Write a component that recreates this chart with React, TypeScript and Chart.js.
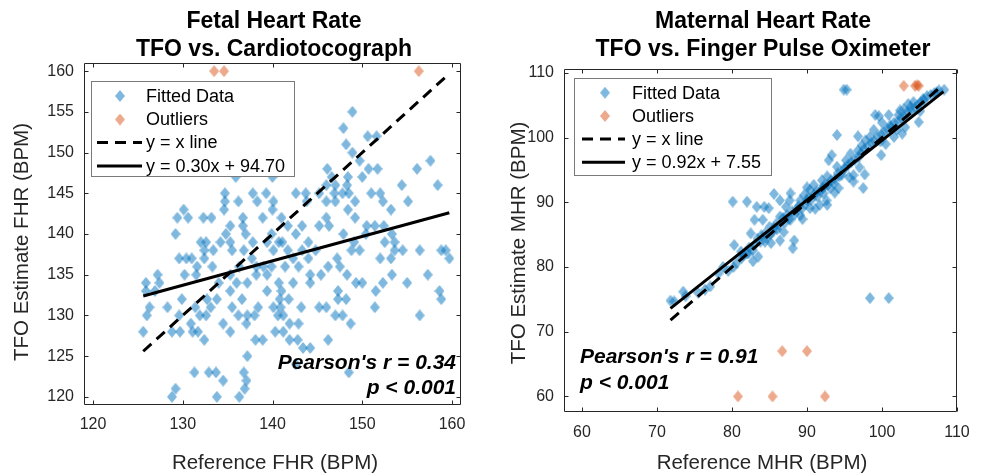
import React, { useEffect, useRef } from 'react';
import { Chart, registerables } from 'chart.js';
Chart.register(...registerables);

const FONT = '"Liberation Sans", Arial, Helvetica, sans-serif';

// ---------------- Fetal heart rate (left) ----------------
const FHR_FIT_X = [132.4,148.9,137.2,136.2,147.9,150.6,151.6,140.4,139.9,148.2,148.9,149.7,135.9,140.0,146.1,146.6,148.4,150.7,151.7,156.1,157.6,154.4,158.4,146.0,147.0,148.3,150.0,134.7,137.8,139.3,142.6,143.7,145.2,146.9,147.8,148.5,151.0,152.0,134.7,136.2,138.3,140.1,143.8,146.0,147.0,149.2,152.3,155.1,130.1,134.6,140.0,148.4,153.2,129.4,130.6,132.3,133.2,136.7,138.9,141.0,146.0,149.2,135.3,136.7,141.7,143.3,145.2,146.3,150.5,151.4,152.4,129.2,134.8,137.0,139.9,142.6,147.9,150.4,153.3,132.0,132.6,134.2,135.3,137.8,139.4,140.7,141.1,144.0,149.1,152.5,153.6,132.4,133.4,135.5,136.8,140.1,141.7,143.3,144.8,148.8,149.7,153.6,154.5,156.4,158.8,159.3,129.6,130.4,131.0,132.4,137.7,142.3,144.0,147.2,152.0,153.2,159.7,131.6,133.3,136.3,138.2,139.0,139.9,141.4,142.9,146.2,147.5,127.2,130.2,131.5,135.3,138.2,139.4,144.2,145.4,148.3,153.3,157.3,125.9,127.4,134.0,136.0,137.2,140.7,142.3,144.2,149.3,150.0,152.3,155.0,125.9,126.9,135.3,139.4,141.0,147.3,151.5,158.6,129.9,133.8,136.6,141.8,140.8,158.8,132.7,147.3,148.2,126.3,128.3,131.4,133.1,135.5,138.4,140.1,140.9,143.2,145.2,146.0,151.4,126.0,129.6,131.9,132.6,136.2,137.2,138.0,140.6,141.2,147.0,147.8,156.4,130.9,134.5,137.1,141.9,142.9,148.7,125.6,128.8,129.7,131.1,131.7,135.3,140.3,141.2,132.4,138.1,138.9,141.9,142.8,146.2,143.4,144.2,137.2,142.6,131.3,132.9,133.7,136.8,148.5,134.5,137.1,129.2,136.9,128.8,133.8,136.3];
const FHR_FIT_Y = [155,155,153,152,153,152,152,151,150,151,150,149,147,147,148,147,147,148,148,148,149,146,146,146,146,146,147,145,145,145,145,145,145,145,145,145,145,145,144,144,144,144,144,144,144,144,144,144,143,143,143,143,143,142,142,142,142,142,142,142,142,142,141,141,141,141,141,141,141,141,141,140,140,140,140,140,140,140,140,139,139,139,139,139,139,139,139,139,139,139,139,138,138,138,138,138,138,138,138,138,138,138,138,138,138,138,137,137,137,137,137,137,137,137,137,137,137,136,136,136,136,136,136,136,136,136,136,135,135,135,135,135,135,135,135,135,135,135,134,134,134,134,134,134,134,134,134,134,134,134,133,133,133,133,133,133,133,133,132,132,132,132,132,132,132,132,132,131,131,131,131,131,131,131,131,131,131,131,131,130,130,130,130,130,130,130,130,130,130,130,130,129,129,129,129,129,129,128,128,128,128,128,128,128,128,127,127,127,127,127,127,126,126,125,124,123,123,123,123,123,122,122,121,121,120,120,120];
const FHR_OUT_X = [133.5, 134.6, 156.3];
const FHR_OUT_Y = [160, 160, 160];
const FHR_X_TICKS = [120, 130, 140, 150, 160];
const FHR_Y_TICKS = [120, 125, 130, 135, 140, 145, 150, 155, 160];
const FHR_SLOPE = 0.30;
const FHR_INTERCEPT = 94.70;
const FHR_LINE_X = [125.6, 159.7];

// ---------------- Maternal heart rate (right) ----------------
const MHR_FIT_X = [94.9,95.3,108.3,107.3,105.5,104.2,103.5,102.4,102.9,103.8,104.9,99.1,99.6,100.9,102.2,101.1,102.0,102.7,98.9,98.4,99.8,99.9,96.8,97.8,97.3,96.8,94.0,95.8,95.2,93.3,92.9,94.0,94.9,96.2,97.7,97.5,96.2,94.3,93.6,92.7,92.0,93.1,94.2,92.1,90.9,91.3,90.4,90.0,89.6,89.1,90.0,88.7,89.1,92.2,92.6,92.7,91.7,90.4,87.8,87.7,87.2,86.4,85.6,84.9,86.4,87.1,85.6,85.1,84.4,84.1,83.0,82.5,83.8,84.4,83.0,82.2,81.3,80.6,80.2,80.3,81.2,82.0,80.1,82.0,83.3,84.3,86.4,88.3,88.1,87.8,86.0,83.5,78.8,78.2,77.1,76.4,75.5,73.5,73.8,71.8,72.3,98.4,100.9,81.5,82.3,82.8,83.4,83.9,84.6,85.0,85.4,85.9,86.3,86.8,87.3,87.6,88.0,88.4,88.9,89.3,89.8,90.2,90.6,91.0,91.4,91.8,92.3,92.8,93.2,93.7,94.1,94.6,95.0,95.5,95.9,96.4,96.9,97.2,97.6,98.1,98.6,99.0,99.4,99.9,100.3,100.7,101.2,101.6,102.1,102.6,103.0,103.4,103.9,104.4,104.8,105.2,105.6,106.0,106.5,107.0,107.6,100.0,101.6,97.0,95.6,93.7,91.1,89.4,86.9,85.2,82.8,79.5,100.5,103.1,105.1];
const MHR_FIT_Y = [107.4,107.4,107.4,107.0,106.0,105.5,105.2,104.2,104.4,104.7,102.4,103.5,103.3,103.5,103.5,101.9,101.2,100.6,101.2,100.1,99.4,97.3,100.2,99.6,98.8,98.0,100.4,97.5,96.5,97.3,96.5,95.5,95.0,94.2,94.3,92.2,93.2,94.0,92.9,94.0,93.4,92.2,92.2,92.2,92.7,91.7,91.9,92.3,91.1,90.3,90.3,89.1,88.0,91.4,90.3,89.6,89.6,89.1,91.4,90.3,89.3,90.3,91.3,89.1,87.8,86.9,86.0,85.0,85.2,87.3,87.3,85.2,83.9,83.9,83.4,82.1,81.4,80.6,80.0,83.4,82.4,82.1,90.1,90.1,89.3,89.3,84.1,84.1,82.9,87.3,85.8,81.6,80.0,79.0,77.0,76.5,76.0,76.2,75.5,74.8,74.7,75.2,75.2,81.8,83.0,82.6,84.4,84.9,84.6,86.2,85.4,86.7,86.4,87.6,88.0,87.4,88.6,88.2,89.4,89.0,89.7,90.8,90.4,91.2,90.9,91.8,92.6,92.7,93.4,93.6,94.5,94.2,95.3,95.8,96.2,96.6,97.0,97.6,98.2,98.6,99.2,99.4,100.2,100.5,100.9,101.4,101.6,102.3,102.5,103.0,103.2,103.9,104.1,104.6,105.1,105.5,105.8,106.4,106.6,106.9,107.3,102.3,100.1,95.4,93.9,91.5,89.0,87.4,85.4,83.7,80.9,79.4,99.0,101.6,104.1];
const MHR_OUT_X = [102.9, 104.4, 104.9, 104.7, 80.8, 85.4, 92.4, 86.7, 90.0];
const MHR_OUT_Y = [108.0, 108.0, 108.0, 108.1, 60, 60, 60, 67, 67];
const MHR_X_TICKS = [60, 70, 80, 90, 100, 110];
const MHR_Y_TICKS = [60, 70, 80, 90, 100, 110];
const MHR_SLOPE = 0.92;
const MHR_INTERCEPT = 7.55;
const MHR_LINE_X = [71.8, 108.2];
const MHR_IDENT_X = [71.8, 107.6];

const BLUE = 'rgba(0,114,189,0.5)';
const ORANGE = 'rgba(217,83,25,0.5)';
const INK = '#262626';

function makeDiamond(color: string, w: number, h: number) {
  const c = document.createElement('canvas');
  c.width = w;
  c.height = h;
  const g = c.getContext('2d')!;
  g.fillStyle = color;
  g.beginPath();
  g.moveTo(w / 2, 0);
  g.lineTo(w, h / 2);
  g.lineTo(w / 2, h);
  g.lineTo(0, h / 2);
  g.closePath();
  g.fill();
  return c;
}

function pts(xs: number[], ys: number[]) {
  return xs.map((x, i) => ({ x, y: ys[i] }));
}

const decorPlugin = {
  id: 'decor',
  afterDatasetsDraw(chart: any, _args: any, o: any) {
    const { ctx, chartArea: ca, scales } = chart;
    const xs = scales.x, ys = scales.y;
    const ox = o.offsetX;
    ctx.save();
    ctx.strokeStyle = INK;
    ctx.lineWidth = 1;
    const L = Math.round(ca.left) + 0.5, R = Math.round(ca.right) - 0.5;
    const T = Math.round(ca.top) + 0.5, B = Math.round(ca.bottom) - 0.5;
    ctx.beginPath();
    ctx.rect(L, T, R - L, B - T);
    ctx.stroke();
    ctx.beginPath();
    xs.ticks.forEach((t: any) => {
      const p = Math.round(xs.getPixelForValue(t.value)) + 0.5;
      ctx.moveTo(p, B); ctx.lineTo(p, B - 4);
      ctx.moveTo(p, T); ctx.lineTo(p, T + 4);
    });
    ys.ticks.forEach((t: any) => {
      const p = Math.round(ys.getPixelForValue(t.value)) + 0.5;
      ctx.moveTo(L, p); ctx.lineTo(L + 4, p);
      ctx.moveTo(R, p); ctx.lineTo(R - 4, p);
    });
    ctx.stroke();

    // legend
    const lg = o.legend;
    ctx.fillStyle = '#ffffff';
    ctx.fillRect(lg.x0 - ox, lg.y0, lg.x1 - lg.x0, lg.y1 - lg.y0);
    ctx.strokeStyle = '#7a7a7a';
    ctx.strokeRect(lg.x0 - ox + 0.5, lg.y0 + 0.5, lg.x1 - lg.x0, lg.y1 - lg.y0);
    ctx.font = `18px ${FONT}`;
    ctx.textBaseline = 'middle';
    ctx.textAlign = 'left';
    const ds = chart.data.datasets;
    lg.rows.forEach((ry: number, i: number) => {
      const d = ds[lg.order[i]];
      if (d.showLine) {
        ctx.save();
        ctx.strokeStyle = '#000';
        ctx.lineWidth = d.borderWidth;
        ctx.setLineDash(d.borderDash || []);
        ctx.beginPath();
        ctx.moveTo(lg.lx0 - ox, ry);
        ctx.lineTo(lg.lx1 - ox, ry);
        ctx.stroke();
        ctx.restore();
      } else {
        const img = d.pointStyle;
        ctx.drawImage(img, lg.mx - ox - img.width / 2, ry - img.height / 2);
      }
      ctx.fillStyle = '#000';
      ctx.fillText(d.label, lg.tx - ox, ry + 1);
    });

    // annotation
    ctx.fillStyle = '#000';
    ctx.font = `italic bold 21px ${FONT}`;
    ctx.textAlign = o.note.align;
    o.note.lines.forEach((s: string, i: number) => ctx.fillText(s, o.note.x - ox, o.note.ys[i]));

    // title
    ctx.font = `bold 23px ${FONT}`;
    ctx.textAlign = 'center';
    o.title.lines.forEach((s: string, i: number) => ctx.fillText(s, o.title.x - ox, o.title.ys[i]));

    // axis titles
    ctx.fillStyle = INK;
    ctx.font = `20.5px ${FONT}`;
    ctx.fillText(o.xTitle.text, o.xTitle.x - ox, o.xTitle.y);
    ctx.save();
    ctx.translate(o.yTitle.x - ox, o.yTitle.y);
    ctx.rotate(-Math.PI / 2);
    ctx.fillText(o.yTitle.text, 0, 0);
    ctx.restore();
    ctx.restore();
  },
};

function Panel({ cfg }: { cfg: any }) {
  const ref = useRef<HTMLCanvasElement>(null);
  useEffect(() => {
    const blue = makeDiamond(BLUE, 10, 12);
    const orange = makeDiamond(ORANGE, 10, 12);
    const lineX = cfg.lineX;
    const identX = cfg.identX;
    const chart = new Chart(ref.current!, {
      type: 'scatter',
      data: {
        datasets: [
          { label: 'Fitted Data', data: pts(cfg.fitX, cfg.fitY), pointStyle: blue, pointRadius: 5, order: 3, showLine: false } as any,
          { label: 'Outliers', data: pts(cfg.outX, cfg.outY), pointStyle: orange, pointRadius: 5, order: 2, showLine: false } as any,
          {
            type: 'line', label: 'y = x line', data: identX.map((x: number) => ({ x, y: x })),
            showLine: true, borderColor: '#000', borderWidth: 3, borderDash: [11, 7], pointRadius: 0, order: 1, fill: false,
          } as any,
          {
            type: 'line', label: cfg.fitLabel,
            data: lineX.map((x: number) => ({ x, y: cfg.slope * x + cfg.intercept })),
            showLine: true, borderColor: '#000', borderWidth: 3, pointRadius: 0, order: 0, fill: false,
          } as any,
        ],
      },
      options: {
        animation: false,
        responsive: false,
        maintainAspectRatio: false,
        events: [],
        layout: { padding: { top: cfg.padTop, right: cfg.padRight, left: 0, bottom: 0 } },
        plugins: {
          legend: { display: false },
          tooltip: { enabled: false },
          title: { display: false },
          decor: cfg.decor,
        } as any,
        scales: {
          x: {
            type: 'linear', position: 'bottom', min: cfg.xMin, max: cfg.xMax,
            grid: { display: false, drawTicks: false }, border: { display: false },
            ticks: { font: { family: FONT, size: 16 }, color: INK, padding: cfg.xPad, maxRotation: 0, autoSkip: false, callback: (v: any) => String(v) },
            afterBuildTicks: (s: any) => { s.ticks = cfg.xTicks.map((v: number) => ({ value: v })); },
            afterFit: (s: any) => { s.height = cfg.xAxisH; },
          },
          y: {
            type: 'linear', position: 'left', min: cfg.yMin, max: cfg.yMax,
            grid: { display: false, drawTicks: false }, border: { display: false },
            ticks: { font: { family: FONT, size: 16 }, color: INK, padding: cfg.yPad, autoSkip: false, callback: (v: any) => String(v) },
            afterBuildTicks: (s: any) => { s.ticks = cfg.yTicks.map((v: number) => ({ value: v })); },
            afterFit: (s: any) => { s.width = cfg.yAxisW; },
          },
        } as any,
      },
      plugins: [decorPlugin],
    } as any);
    return () => chart.destroy();
  }, []);
  return (
    <canvas
      ref={ref}
      width={cfg.w}
      height={474}
      style={{ position: 'fixed', left: cfg.left, top: 0, width: cfg.w, height: 474, display: 'block' }}
    />
  );
}

const LEFT_CFG = {
  left: 0, w: 490, padTop: 63, padRight: 29, yAxisW: 84, xAxisH: 69, xPad: 10, yPad: 10,
  xMin: 119, xMax: 161, yMin: 119, yMax: 161,
  fitX: FHR_FIT_X, fitY: FHR_FIT_Y, outX: FHR_OUT_X, outY: FHR_OUT_Y,
  xTicks: FHR_X_TICKS, yTicks: FHR_Y_TICKS,
  slope: FHR_SLOPE, intercept: FHR_INTERCEPT, lineX: FHR_LINE_X, identX: FHR_LINE_X,
  fitLabel: 'y = 0.30x + 94.70',
  decor: {
    offsetX: 0,
    legend: { x0: 91, y0: 81, x1: 294, y1: 176, rows: [96, 119.5, 142.5, 166], order: [0, 1, 2, 3], mx: 120, tx: 146, lx0: 97, lx1: 142 },
    note: { align: 'right', x: 456, ys: [363, 388], lines: ["Pearson's r = 0.34", 'p < 0.001'] },
    title: { x: 274, ys: [22, 50], lines: ['Fetal Heart Rate', 'TFO vs. Cardiotocograph'] },
    xTitle: { text: 'Reference FHR (BPM)', x: 275, y: 463 },
    yTitle: { text: 'TFO Estimate FHR (BPM)', x: 22, y: 242 },
  },
};

const RIGHT_CFG = {
  left: 490, w: 491, padTop: 69, padRight: 24, yAxisW: 74, xAxisH: 62, xPad: 11, yPad: 10,
  xMin: 57.6, xMax: 110, yMin: 57.6, yMax: 110.6,
  fitX: MHR_FIT_X, fitY: MHR_FIT_Y, outX: MHR_OUT_X, outY: MHR_OUT_Y,
  xTicks: MHR_X_TICKS, yTicks: MHR_Y_TICKS,
  slope: MHR_SLOPE, intercept: MHR_INTERCEPT, lineX: MHR_LINE_X, identX: MHR_IDENT_X,
  fitLabel: 'y = 0.92x + 7.55',
  decor: {
    offsetX: 490,
    legend: { x0: 574, y0: 78, x1: 771, y1: 175, rows: [92.7, 116, 139, 162.3], order: [0, 1, 2, 3], mx: 605, tx: 632, lx0: 582, lx1: 625 },
    note: { align: 'left', x: 580, ys: [357, 383], lines: ["Pearson's r = 0.91", 'p < 0.001'] },
    title: { x: 763, ys: [22, 50], lines: ['Maternal Heart Rate', 'TFO vs. Finger Pulse Oximeter'] },
    xTitle: { text: 'Reference MHR (BPM)', x: 762, y: 463 },
    yTitle: { text: 'TFO Estimate MHR (BPM)', x: 519, y: 243 },
  },
};

export default function App() {
  return (
    <div style={{ position: 'fixed', left: 0, top: 0, width: 981, height: 474, background: '#fff' }}>
      <Panel cfg={LEFT_CFG} />
      <Panel cfg={RIGHT_CFG} />
    </div>
  );
}
